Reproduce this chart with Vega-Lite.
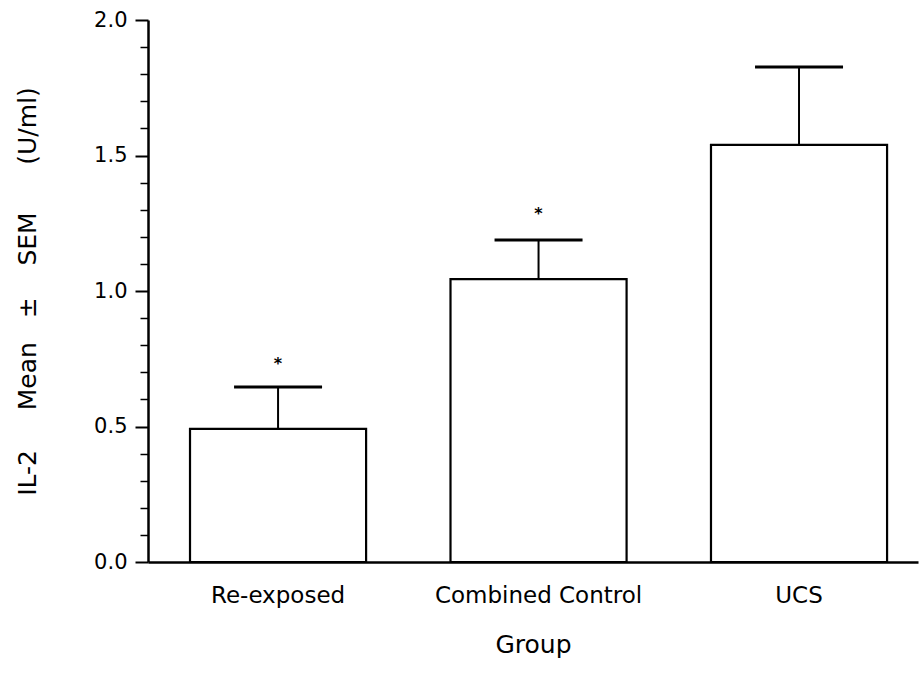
{
  "$schema": "https://vega.github.io/schema/vega-lite/v6.json",
  "width": 770,
  "height": 542,
  "autosize": {"type": "none"},
  "padding": {"left": 148, "top": 20, "right": 5, "bottom": 112},
  "background": "white",
  "config": {"view": {"stroke": null}, "font": "DejaVu Sans"},
  "data": {
    "values": [
      {"group": "Re-exposed", "mean": 0.491, "upper": 0.646, "star": 0.745},
      {"group": "Combined Control", "mean": 1.044, "upper": 1.188, "star": 1.3},
      {"group": "UCS", "mean": 1.539, "upper": 1.827, "star": null}
    ]
  },
  "encoding": {
    "x": {
      "field": "group",
      "type": "nominal",
      "sort": null,
      "scale": {"paddingInner": 0.324, "paddingOuter": 0.14, "align": 0.576},
      "axis": {
        "title": "Group",
        "titleFont": "DejaVu Sans",
        "titleFontSize": 25,
        "titleFontWeight": "normal",
        "titleColor": "black",
        "titleY": 90,
        "titleBaseline": "alphabetic",
        "labelFont": "DejaVu Sans",
        "labelFontSize": 23,
        "labelColor": "black",
        "labelAngle": 0,
        "labelBaseline": "alphabetic",
        "labelPadding": 40,
        "labelLimit": 0,
        "ticks": false,
        "tickSize": 0,
        "domainColor": "black",
        "domainWidth": 2.5,
        "grid": false
      }
    }
  },
  "layer": [
    {
      "mark": {"type": "bar", "fill": "white", "stroke": "black", "strokeWidth": 2.2},
      "encoding": {
        "y": {
          "field": "mean",
          "type": "quantitative",
          "scale": {"domain": [0, 2], "nice": false, "zero": true},
          "axis": {
            "orient": "left",
            "values": [0, 0.5, 1, 1.5, 2],
            "format": ".1f",
            "tickSize": 13,
            "tickWidth": 2,
            "tickColor": "black",
            "domainColor": "black",
            "domainWidth": 2.5,
            "labelFont": "DejaVu Sans",
            "labelFontSize": 21,
            "labelColor": "black",
            "labelPadding": 8,
            "grid": false,
            "title": "IL-2\u00a0\u00a0\u00a0\u00a0\u00a0Mean\u00a0\u00a0\u00a0±\u00a0\u00a0\u00a0\u00a0SEM\u00a0\u00a0\u00a0\u00a0\u00a0\u00a0(U/ml)",
            "titleFont": "DejaVu Sans",
            "titleFontSize": 25,
            "titleFontWeight": "normal",
            "titleColor": "black",
            "titleX": -121,
            "titleY": 271,
            "titleAngle": -90,
            "titleAlign": "center",
            "titleBaseline": "middle",
            "titleLimit": 0
          }
        }
      }
    },
    {
      "mark": {"type": "rule", "color": "black", "strokeWidth": 2},
      "encoding": {
        "y": {
          "field": "mean",
          "type": "quantitative",
          "axis": {
            "orient": "left",
            "values": [0.1, 0.2, 0.3, 0.4, 0.6, 0.7, 0.8, 0.9, 1.1, 1.2, 1.3, 1.4, 1.6, 1.7, 1.8, 1.9],
            "labels": false,
            "domain": false,
            "grid": false,
            "tickSize": 8,
            "tickWidth": 1.5,
            "tickColor": "black",
            "title": null
          }
        },
        "y2": {"field": "upper"}
      }
    },
    {
      "mark": {"type": "tick", "color": "black", "opacity": 1, "size": 88, "thickness": 3},
      "encoding": {
        "y": {"field": "upper", "type": "quantitative", "axis": null}
      }
    },
    {
      "mark": {"type": "text", "text": "*", "font": "DejaVu Sans", "fontSize": 16, "fontWeight": "bold", "color": "black", "baseline": "alphabetic", "dy": 9},
      "encoding": {
        "y": {"field": "star", "type": "quantitative", "axis": null}
      }
    }
  ],
  "resolve": {"axis": {"y": "independent"}}
}
